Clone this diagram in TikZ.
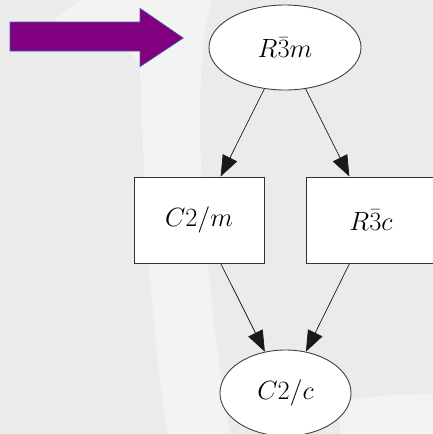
\RequirePackage{fix-cm}
\documentclass[tikz,border=0pt]{standalone}
\usepackage{graphicx}
\usetikzlibrary{arrows.meta,shapes.geometric}
\definecolor{bggray}{RGB}{235,235,235}
\definecolor{bglight}{RGB}{243,243,243}
\definecolor{arrowpurple}{RGB}{128,0,128}
\definecolor{arrowedge}{RGB}{70,100,170}
\newcommand{\lbltxt}[1]{\scalebox{1.06}{$#1$}}
\begin{document}
\begin{tikzpicture}[x=1pt,y=-1pt,
  every node/.style={font=\fontsize{24.88}{30}\selectfont},
  oval/.style={ellipse,draw=black!75,line width=0.9pt,fill=white,inner sep=0pt},
  box/.style={rectangle,draw=black!80,line width=0.9pt,fill=white,inner sep=0pt,minimum width=130pt,minimum height=86pt},
  link/.style={draw=black!90,line width=0.7pt,-{Triangle[length=21pt,width=16pt]}}]
\useasboundingbox (0,0) rectangle (433,434);
\clip (0,0) rectangle (433,434);
% background
\fill[bggray] (0,0) rectangle (433,434);
\fill[bglight] (80,0) -- (53,20) .. controls (100,30) and (135,45) .. (140,70)
  .. controls (145,200) and (150,330) .. (168,434) -- (230,434)
  .. controls (212,330) and (200,200) .. (200,120)
  .. controls (200,60) and (205,20) .. (212,0) -- cycle;
\fill[bglight] (340,434) -- (340,402) .. controls (370,396) and (400,394) .. (433,394) -- (433,434) -- cycle;
% purple arrow
\filldraw[fill=arrowpurple,draw=arrowedge,line width=0.6pt]
  (10,22) -- (140,22) -- (140,8.3) -- (183.3,38) -- (140,66.7) -- (140,51) -- (10,51) -- cycle;
% nodes
\node[oval,minimum width=152pt,minimum height=85pt] (r3m) at (285,47.5) {\lbltxt{R\bar{3}m}};
\node[box] (c2m) at (199,220) {\lbltxt{C2/m}};
\node[box] (r3c) at (371,220) {\lbltxt{R\bar{3}c}};
\node[oval,minimum width=131pt,minimum height=86pt] (c2c) at (285.5,393) {\lbltxt{C2/c}};
% edges
\draw[link] (r3m) -- (c2m);
\draw[link] (r3m) -- (r3c);
\draw[link] (c2m) -- (c2c);
\draw[link] (r3c) -- (c2c);
\end{tikzpicture}
\end{document}
